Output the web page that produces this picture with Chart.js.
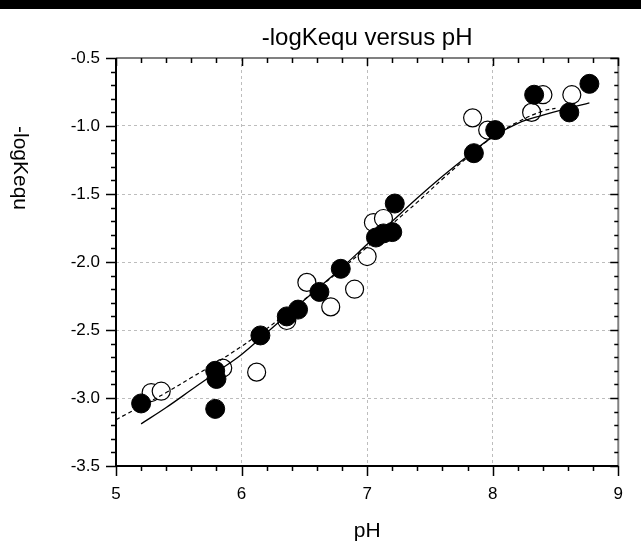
<!DOCTYPE html>
<html lang="en">
  <head>
    <meta charset="UTF-8" />
    <title>-logKequ versus pH</title>
    <script src="https://cdn.jsdelivr.net/npm/chart.js"></script>
    <style>
      html, body { margin: 0; padding: 0; background: #fff; }
      canvas { display: block; }
    </style>
  </head>
  <body>
    <canvas id="kChart" width="641" height="542"></canvas>
    <script>
      // measured points, open circles
      const openPH = [5.28, 5.36, 5.85, 6.12, 6.36, 6.52, 6.71, 6.90, 7.00, 7.05, 7.13, 7.84, 7.96, 8.31, 8.40, 8.63];
      const openK = [-2.96, -2.95, -2.78, -2.81, -2.43, -2.15, -2.33, -2.20, -1.96, -1.71, -1.68, -0.94, -1.03, -0.90, -0.77, -0.77];
      // measured points, filled circles
      const filledPH = [5.20, 5.79, 5.80, 5.79, 6.15, 6.36, 6.45, 6.62, 6.79, 7.07, 7.13, 7.20, 7.22, 7.85, 8.02, 8.33, 8.61, 8.77];
      const filledK = [-3.04, -2.80, -2.86, -3.08, -2.54, -2.40, -2.35, -2.22, -2.05, -1.82, -1.79, -1.78, -1.57, -1.20, -1.03, -0.77, -0.90, -0.69];
      // fitted curves
      const solidPH = [5.2, 5.4, 5.6, 5.8, 6.0, 6.2, 6.4, 6.6, 6.8, 7.0, 7.2, 7.4, 7.6, 7.8, 8.0, 8.2, 8.4, 8.6, 8.77];
      const solidK = [-3.19, -3.07, -2.94, -2.81, -2.68, -2.52, -2.36, -2.20, -2.04, -1.87, -1.70, -1.53, -1.37, -1.22, -1.08, -0.98, -0.92, -0.87, -0.83];
      const dashPH = [5.0, 5.2, 5.4, 5.6, 5.8, 6.0, 6.2, 6.4, 6.6, 6.8, 7.0, 7.2, 7.4, 7.6, 7.8, 8.0, 8.2, 8.4, 8.5];
      const dashK = [-3.16, -3.06, -2.96, -2.85, -2.74, -2.62, -2.49, -2.35, -2.20, -2.05, -1.89, -1.72, -1.56, -1.39, -1.23, -1.08, -0.97, -0.89, -0.87];

      const toXY = (xs, ys) => xs.map((x, i) => ({ x: x, y: ys[i] }));
      const FONT = "'Liberation Sans', Arial, sans-serif";

      // white page with black strip on top
      const background = {
        id: "background",
        beforeDraw(chart) {
          const c = chart.ctx;
          c.save();
          c.fillStyle = "#fff";
          c.fillRect(0, 0, chart.width, chart.height);
          c.fillStyle = "#000";
          c.fillRect(0, 0, chart.width, 9);
          c.restore();
        },
      };

      // frame + major/minor ticks on all four sides
      const frameTicks = {
        id: "frameTicks",
        beforeDatasetsDraw(chart) {
          const c = chart.ctx;
          const a = chart.chartArea;
          const xs = chart.scales.x;
          const ys = chart.scales.y;
          c.save();
          c.strokeStyle = "#808080";
          c.lineWidth = 2;
          c.beginPath();
          c.moveTo(a.left, a.top);
          c.lineTo(a.right, a.top);
          c.lineTo(a.right, a.bottom);
          c.stroke();
          c.strokeStyle = "#000";
          c.beginPath();
          c.moveTo(a.left, a.top);
          c.lineTo(a.left, a.bottom);
          c.lineTo(a.right, a.bottom);
          c.stroke();

          c.lineWidth = 1.5;
          c.beginPath();
          for (let i = 0; i <= 20; i++) {
            const px = Math.round(xs.getPixelForValue(5 + i * 0.2)) + 0.5;
            const major = i % 5 === 0;
            c.moveTo(px, a.bottom);
            c.lineTo(px, a.bottom + (major ? 10 : 5));
            c.moveTo(px, a.top);
            c.lineTo(px, a.top + (major ? 8 : 5));
          }
          for (let i = 0; i <= 30; i++) {
            const py = Math.round(ys.getPixelForValue(-3.5 + i * 0.1)) + 0.5;
            const major = i % 5 === 0;
            c.moveTo(a.left, py);
            c.lineTo(a.left - (major ? 10 : 5), py);
            c.moveTo(a.right, py);
            c.lineTo(a.right - (major ? 8 : 4), py);
          }
          c.stroke();
          c.restore();
        },
        afterDraw(chart) {
          // y axis title reads top to bottom
          const c = chart.ctx;
          c.save();
          c.translate(20, 168);
          c.rotate(Math.PI / 2);
          c.fillStyle = "#000";
          c.font = "21px " + FONT;
          c.textAlign = "center";
          c.textBaseline = "middle";
          c.fillText("-logKequ", 0, 0);
          c.restore();
        },
      };

      const gridColor = (ctx) => {
        const v = ctx.tick ? ctx.tick.value : null;
        if (v === 5 || v === 9 || v === -0.5 || v === -3.5) return "rgba(0,0,0,0)";
        return "#bdbdbd";
      };

      new Chart(document.getElementById("kChart"), {
        type: "scatter",
        data: {
          datasets: [
            {
              label: "fit",
              data: toXY(solidPH, solidK),
              showLine: true,
              borderColor: "#000",
              borderWidth: 1.3,
              pointRadius: 0,
              tension: 0.4,
              order: 0,
            },
            {
              label: "fit 2",
              data: toXY(dashPH, dashK),
              showLine: true,
              borderColor: "#000",
              borderWidth: 1.2,
              borderDash: [4, 3],
              pointRadius: 0,
              tension: 0.4,
              order: 0,
            },
            {
              label: "filled",
              data: toXY(filledPH, filledK),
              pointRadius: 9.5,
              pointBackgroundColor: "#000",
              pointBorderColor: "#000",
              pointBorderWidth: 1,
              order: 1,
            },
            {
              label: "open",
              data: toXY(openPH, openK),
              pointRadius: 9,
              pointBackgroundColor: "#fff",
              pointBorderColor: "#000",
              pointBorderWidth: 1.2,
              order: 2,
            },
          ],
        },
        options: {
          responsive: false,
          animation: false,
          devicePixelRatio: 1,
          layout: { padding: { left: 0, right: 5, top: 0, bottom: 0 } },
          plugins: {
            legend: { display: false },
            tooltip: { enabled: false },
            title: {
              display: true,
              fullSize: false,
              text: "-logKequ versus pH",
              color: "#000",
              font: { family: FONT, size: 24, weight: "normal", lineHeight: 1.2 },
              padding: { top: 24, bottom: 5.2 },
            },
          },
          scales: {
            x: {
              type: "linear",
              min: 5,
              max: 9,
              afterFit: (s) => { s.height = 76; },
              ticks: {
                stepSize: 1,
                color: "#000",
                padding: 18,
                maxRotation: 0,
                font: { family: FONT, size: 17 },
                callback: (v) => v,
              },
              grid: { color: gridColor, lineWidth: 1, drawTicks: false },
              border: { display: false, dash: [3, 3] },
              title: {
                display: true,
                text: "pH",
                color: "#000",
                font: { family: FONT, size: 21, lineHeight: 1 },
                padding: { top: 0, bottom: 0 },
              },
            },
            y: {
              type: "linear",
              min: -3.5,
              max: -0.5,
              afterFit: (s) => { s.width = 116; },
              ticks: {
                stepSize: 0.5,
                color: "#000",
                padding: 16,
                font: { family: FONT, size: 17 },
                callback: (v) => v.toFixed(1),
              },
              grid: { color: gridColor, lineWidth: 1, drawTicks: false },
              border: { display: false, dash: [3, 3] },
            },
          },
        },
        plugins: [background, frameTicks],
      });
    </script>
  </body>
</html>
